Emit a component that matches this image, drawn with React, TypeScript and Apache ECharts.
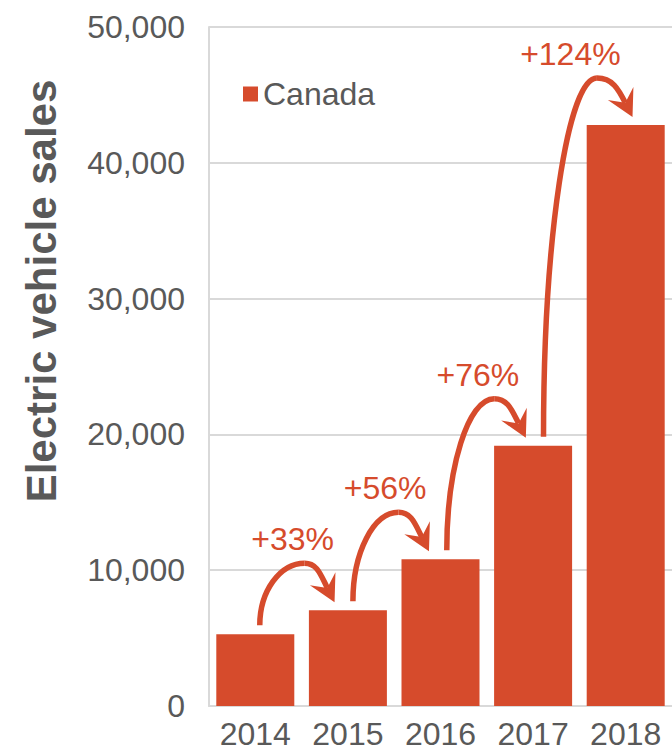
import { useEffect, useRef } from "react";
import * as echarts from "echarts";

// ---- data ----
const years: string[] = ["2014", "2015", "2016", "2017", "2018"];
const sales: number[] = [5280, 7050, 10800, 19170, 42780];
const growthLabels: string[] = ["+33%", "+56%", "+76%", "+124%"];
const seriesName = "Canada";
const axisTitle = "Electric vehicle sales";
const yMin = 0;
const yMax = 50000;
const yStep = 10000;

// ---- styles ----
const RED = "#d64b2c";
const GRAY = "#595959";
const GRIDC = "#d9d9d9";
const FONT = "'Liberation Sans', Arial, Helvetica, sans-serif";

function renderArrow(params: any, api: any) {
  const i = api.value(0) as number;
  const from = api.coord([i, api.value(1)]);
  const to = api.coord([i + 1, api.value(2)]);
  const label = growthLabels[params.dataIndex];

  const rise = from[1] - to[1];
  const x0 = from[0] + 4 + 0.02 * rise;
  const y0 = from[1] - 9;
  // taller arrows lean further to the right
  const tx = to[0] - 15 + 0.068 * rise;
  const ty = to[1] - 8;

  // arrow head (stealth shape), pointing down-right
  const dx = 0.45;
  const dy = 0.893;
  const bx = -dx;
  const by = -dy;
  const L = 30;
  const half = (28.5 * Math.PI) / 180;
  const rot = (a: number) => [bx * Math.cos(a) - by * Math.sin(a), bx * Math.sin(a) + by * Math.cos(a)];
  const r1 = rot(half);
  const r2 = rot(-half);
  const p1 = [tx + r1[0] * L, ty + r1[1] * L];
  const p2 = [tx + r2[0] * L, ty + r2[1] * L];
  const nx = tx + bx * 16;
  const ny = ty + by * 16;

  // apex of the arc
  const xp = x0 + 0.6 * (tx - x0);
  const yp = ty - 39;
  const k = 0.55;
  // rising quarter-ellipse
  const a1 = { x1: x0, y1: y0, cpx1: x0, cpy1: y0 - k * (y0 - yp), cpx2: xp - k * (xp - x0), cpy2: yp, x2: xp, y2: yp };
  // descending part into the head
  const l2 = (ny - yp) / dy;
  const a2 = { x1: xp, y1: yp, cpx1: xp + k * (nx - xp), cpy1: yp, cpx2: nx - dx * k * l2, cpy2: ny - dy * k * l2, x2: nx, y2: ny };

  const lineStyle = { stroke: RED, lineWidth: 5.5, fill: "none" };

  return {
    type: "group",
    children: [
      { type: "bezierCurve", shape: a1, style: lineStyle },
      { type: "bezierCurve", shape: a2, style: lineStyle },
      {
        type: "polygon",
        shape: { points: [[tx, ty], p1, [nx, ny], p2] },
        style: { fill: RED, stroke: "none" },
      },
      {
        type: "text",
        x: (from[0] + to[0]) / 2 - 9,
        y: yp - 24,
        style: {
          text: label,
          fill: RED,
          font: `32px ${FONT}`,
          align: "center",
          verticalAlign: "middle",
        },
      },
    ],
  };
}

export default function App() {
  const ref = useRef<HTMLDivElement>(null);

  useEffect(() => {
    if (!ref.current) return;
    const chart = echarts.init(ref.current, null, { renderer: "svg" });
    const arrowData = growthLabels.map((_, i) => [i, sales[i], sales[i + 1]]);

    chart.setOption({
      animation: false,
      backgroundColor: "#ffffff",
      grid: { left: 209, top: 27, width: 467, height: 679, containLabel: false },
      legend: {
        data: [seriesName],
        left: 243,
        top: 78,
        padding: 0,
        icon: "rect",
        itemWidth: 15,
        itemHeight: 15,
        textStyle: { fontSize: 32, color: GRAY, fontFamily: FONT },
      },
      xAxis: {
        type: "category",
        data: years,
        axisLine: { show: true, lineStyle: { color: GRIDC, width: 2 } },
        axisTick: { show: false },
        axisLabel: { fontSize: 32, color: GRAY, fontFamily: FONT, margin: 12 },
      },
      yAxis: {
        type: "value",
        min: yMin,
        max: yMax,
        interval: yStep,
        axisLine: { show: true, lineStyle: { color: GRIDC, width: 2 } },
        axisTick: { show: false },
        splitLine: { show: true, lineStyle: { color: GRIDC, width: 2 } },
        axisLabel: {
          fontSize: 32,
          color: GRAY,
          fontFamily: FONT,
          margin: 24,
          formatter: (v: number) => v.toLocaleString("en-US"),
        },
      },
      graphic: [
        {
          type: "text",
          x: 41,
          y: 291,
          rotation: Math.PI / 2,
          style: {
            text: axisTitle,
            font: `bold 42px ${FONT}`,
            fill: GRAY,
            align: "center",
            verticalAlign: "middle",
          },
        },
      ],
      series: [
        {
          name: seriesName,
          type: "bar",
          data: sales,
          barWidth: 78,
          itemStyle: { color: RED },
        },
        {
          name: "growth",
          type: "custom",
          data: arrowData,
          encode: { x: 0, y: 1 },
          renderItem: renderArrow,
          z: 5,
          silent: true,
        },
      ],
    });

    return () => chart.dispose();
  }, []);

  return (
    <div
      ref={ref}
      style={{ position: "fixed", left: 0, top: 0, width: 672, height: 752 }}
    />
  );
}
